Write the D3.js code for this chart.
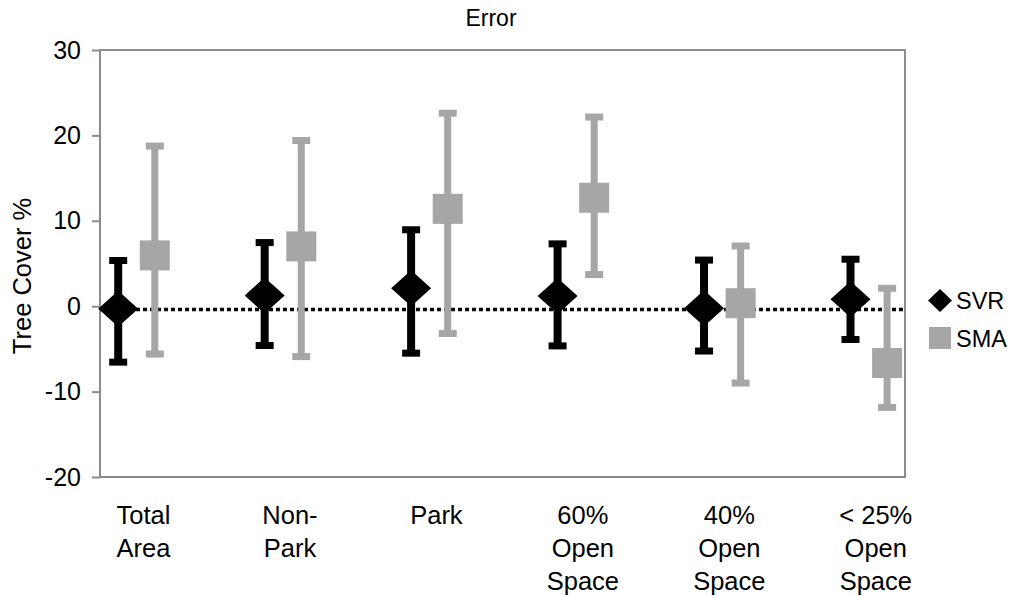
<!DOCTYPE html>
<html>
  <head>
    <title>Error</title>
    <meta charset="utf-8" />
    <script src="https://d3js.org/d3.v7.min.js"></script>
    <style>
      body { margin: 0; background: #fff; }
      text { font-family: "Liberation Sans", Arial, sans-serif; fill: #000; }
    </style>
  </head>

  <body>
    <script>
      // Data
      const categories = ["Total Area", "Non-Park", "Park", "60% Open Space", "40% Open Space", "< 25% Open Space"];
      const labelLines = [["Total", "Area"], ["Non-", "Park"], ["Park"], ["60%", "Open", "Space"], ["40%", "Open", "Space"], ["< 25%", "Open", "Space"]];
      const svrMean = [-0.3, 1.25, 2.1, 1.2, -0.25, 0.8];
      const svrHigh = [5.35, 7.45, 8.95, 7.3, 5.4, 5.5];
      const svrLow = [-6.55, -4.6, -5.5, -4.65, -5.25, -3.9];
      const smaMean = [5.95, 7.0, 11.4, 12.7, 0.35, -6.65];
      const smaHigh = [18.75, 19.4, 22.6, 22.15, 7.05, 2.1];
      const smaLow = [-5.6, -5.9, -3.2, 3.7, -9.0, -11.85];
      const yTicks = [-20, -10, 0, 10, 20, 30];
      const refLine = -0.4;

      const width = 1016, height = 596;
      const plot = { left: 100, right: 905, top: 50, bottom: 477 };

      const svg = d3.select("body").append("svg")
        .attr("width", width)
        .attr("height", height);

      const y = d3.scaleLinear().domain([-20, 30]).range([plot.bottom, plot.top]);
      const x = d3.scalePoint().domain(categories).range([136.5, 868.8]);
      const offset = 18.3;

      const grey = "#a6a6a6";

      // frame
      svg.append("rect")
        .attr("x", plot.left).attr("y", plot.top)
        .attr("width", plot.right - plot.left).attr("height", plot.bottom - plot.top)
        .attr("fill", "none").attr("stroke", "#8c8c8c").attr("stroke-width", 2);

      // y axis (plain hyphen for negatives, like the original)
      const yAxis = svg.append("g")
        .attr("transform", `translate(${plot.left},0)`)
        .call(d3.axisLeft(y).tickValues(yTicks).tickSize(8).tickPadding(11)
          .tickFormat((d) => String(d)));
      yAxis.select(".domain").remove();
      yAxis.selectAll("line").attr("stroke", "#8c8c8c").attr("stroke-width", 2);
      yAxis.selectAll("text")
        .style("font-size", "25px")
        .style("font-family", "'Liberation Sans', Arial, sans-serif")
        .attr("fill", "#000");

      svg.append("text")
        .attr("transform", `translate(31,276) rotate(-90)`)
        .attr("text-anchor", "middle")
        .style("font-size", "25.5px")
        .text("Tree Cover %");

      svg.append("text")
        .attr("x", 491).attr("y", 26)
        .attr("text-anchor", "middle")
        .style("font-size", "23px")
        .text("Error");

      // dotted reference line
      svg.append("line")
        .attr("x1", plot.left + 1).attr("x2", plot.right - 1)
        .attr("y1", y(refLine)).attr("y2", y(refLine))
        .attr("stroke", "#000").attr("stroke-width", 3.5)
        .attr("stroke-dasharray", "4,3");

      // error bars
      function drawBars(cls, dx, low, high, color, lw) {
        const g = svg.append("g").attr("class", cls);
        g.selectAll("line")
          .data(categories)
          .join("line")
          .attr("x1", (d) => x(d) + dx).attr("x2", (d) => x(d) + dx)
          .attr("y1", (d, i) => y(high[i])).attr("y2", (d, i) => y(low[i]))
          .attr("stroke", color).attr("stroke-width", lw);
        [high, low].forEach((vals) => {
          g.selectAll(null)
            .data(categories)
            .join("rect")
            .attr("x", (d) => x(d) + dx - 9)
            .attr("y", (d, i) => y(vals[i]) - 3.5)
            .attr("width", 18).attr("height", 7)
            .attr("fill", color);
        });
      }
      drawBars("svr-bars", -offset, svrLow, svrHigh, "#000", 8);
      drawBars("sma-bars", offset, smaLow, smaHigh, grey, 7);

      // markers
      svg.selectAll(".sma")
        .data(categories)
        .join("rect")
        .attr("class", "sma")
        .attr("x", (d) => x(d) + offset - 15)
        .attr("y", (d, i) => y(smaMean[i]) - 15)
        .attr("width", 30).attr("height", 30)
        .attr("fill", grey);

      svg.selectAll(".svr")
        .data(categories)
        .join("path")
        .attr("class", "svr")
        .attr("d", (d, i) => {
          const cx = x(d) - offset, cy = y(svrMean[i]);
          return `M${cx - 20},${cy}L${cx},${cy - 18}L${cx + 20},${cy}L${cx},${cy + 18}Z`;
        })
        .attr("fill", "#000");

      // category labels
      const labels = svg.selectAll(".cat")
        .data(categories)
        .join("text")
        .attr("class", "cat")
        .attr("text-anchor", "middle")
        .style("font-size", "25.5px");
      labels.each(function (d, i) {
        d3.select(this).selectAll("tspan")
          .data(labelLines[i])
          .join("tspan")
          .attr("x", x(d) + 7)
          .attr("y", (t, j) => 523.5 + j * 33.3)
          .text((t) => t);
      });

      // legend
      const legend = svg.append("g").attr("transform", "translate(940,0)");
      legend.append("path")
        .attr("d", "M-12,300.5L0,289L12,300.5L0,312Z")
        .attr("fill", "#000");
      legend.append("text").attr("x", 16).attr("y", 308.5)
        .style("font-size", "23.5px").text("SVR");
      legend.append("rect")
        .attr("x", -11).attr("y", 327).attr("width", 22).attr("height", 22)
        .attr("fill", grey);
      legend.append("text").attr("x", 16).attr("y", 347)
        .style("font-size", "23.5px").text("SMA");
    </script>
  </body>
</html>
